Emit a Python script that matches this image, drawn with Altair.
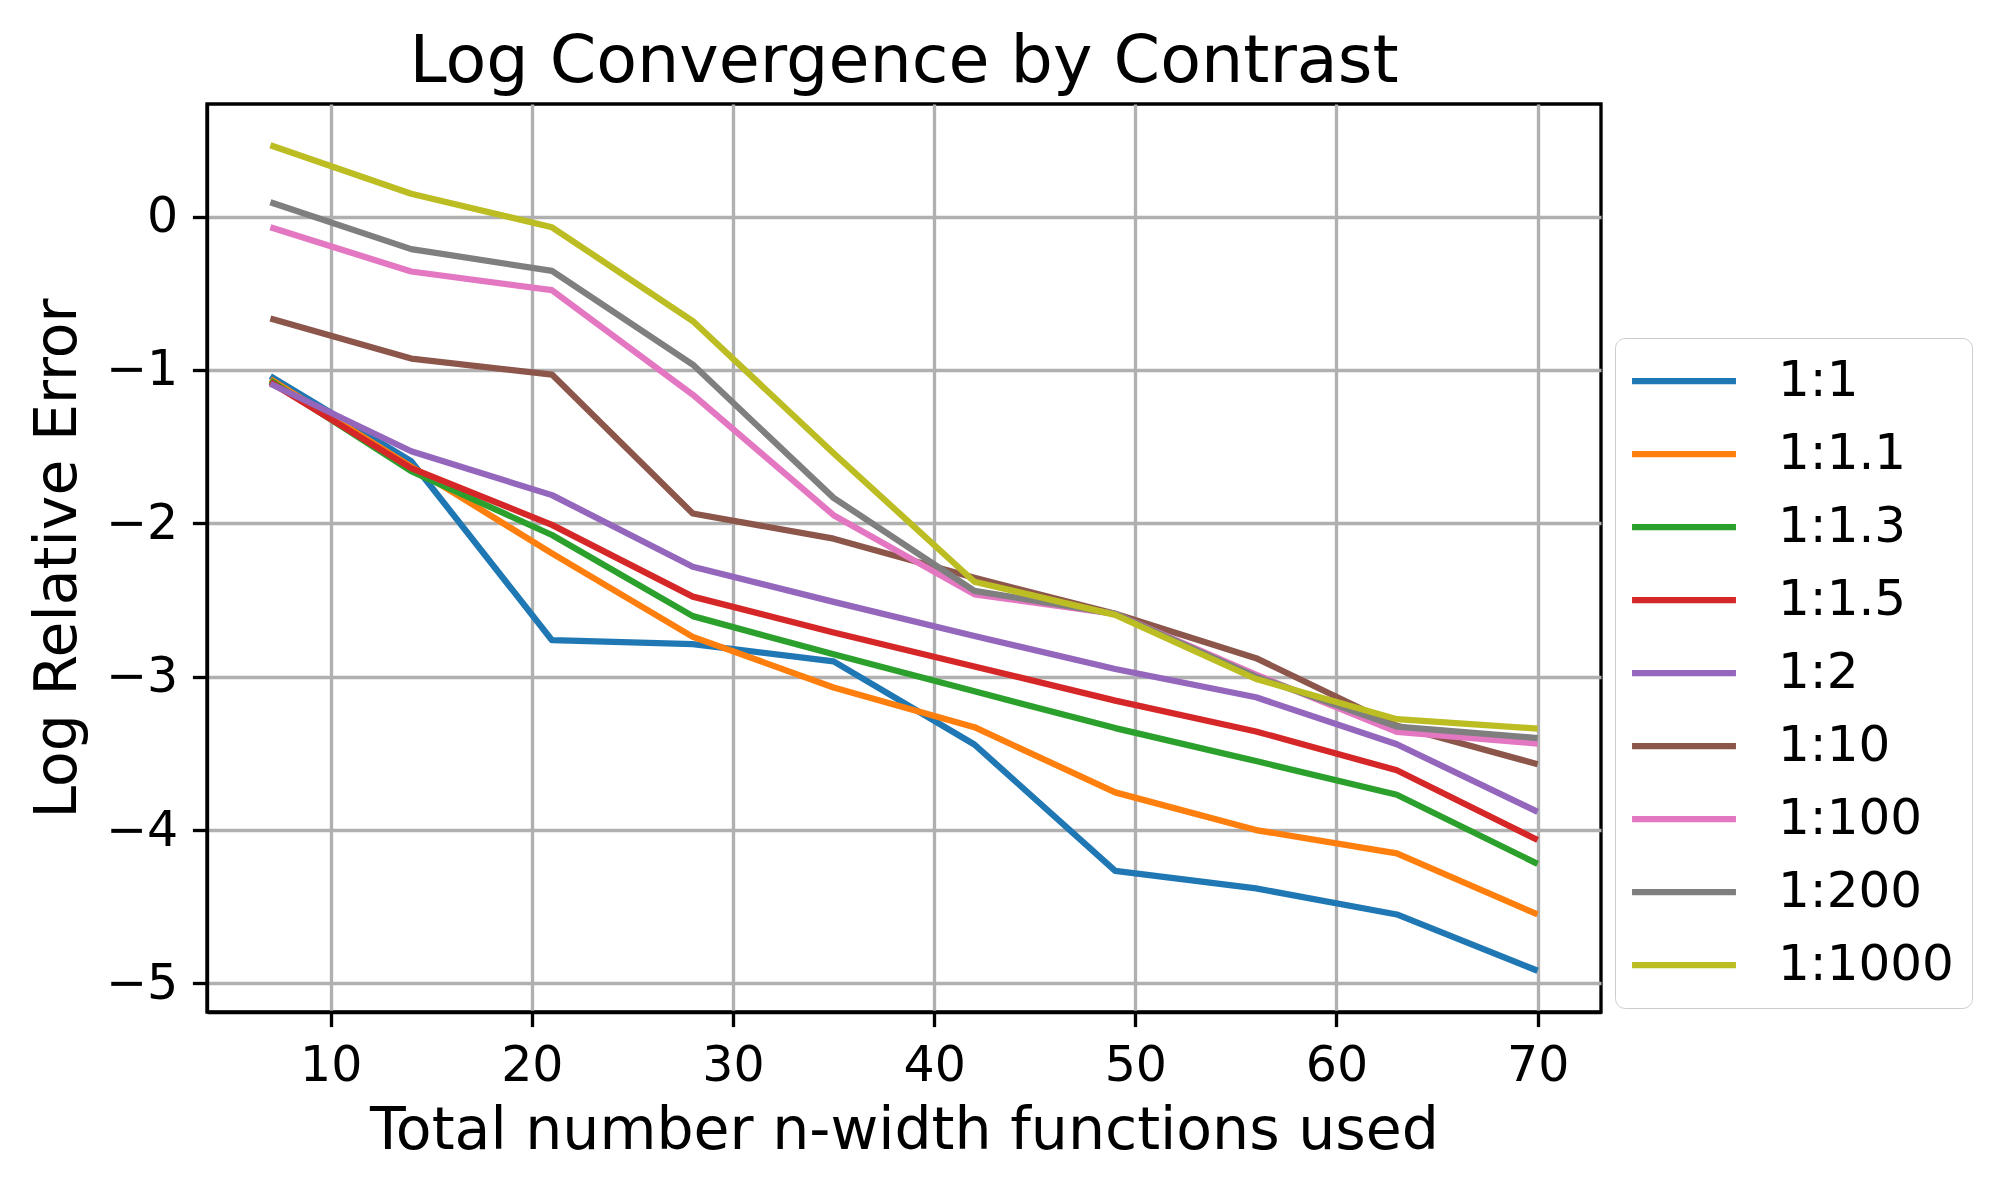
import altair as alt
import pandas as pd

x_vals = [7, 14, 21, 28, 35, 42, 49, 56, 63, 70]
labels = ["1:1", "1:1.1", "1:1.3", "1:1.5", "1:2", "1:10", "1:100", "1:200", "1:1000"]
colors = ["#1f77b4", "#ff7f0e", "#2ca02c", "#d62728", "#9467bd",
          "#8c564b", "#e377c2", "#7f7f7f", "#bcbd22"]

s_1_1 = [-1.04, -1.595, -2.762, -2.788, -2.90, -3.442, -4.266, -4.38, -4.55, -4.917]
s_1_1p1 = [-1.06, -1.63, -2.196, -2.74, -3.07, -3.329, -3.754, -4.0, -4.152, -4.55]
s_1_1p3 = [-1.07, -1.66, -2.076, -2.605, -2.854, -3.095, -3.335, -3.55, -3.77, -4.22]
s_1_1p5 = [-1.08, -1.64, -2.01, -2.478, -2.712, -2.933, -3.156, -3.357, -3.61, -4.065]
s_1_2 = [-1.09, -1.53, -1.816, -2.283, -2.512, -2.734, -2.95, -3.134, -3.44, -3.881]
s_1_10 = [-0.664, -0.926, -1.03, -1.936, -2.10, -2.355, -2.59, -2.879, -3.32, -3.571]
s_1_100 = [-0.07, -0.358, -0.48, -1.161, -1.947, -2.463, -2.59, -2.987, -3.36, -3.436]
s_1_200 = [0.094, -0.212, -0.354, -0.965, -1.834, -2.44, -2.59, -3.00, -3.325, -3.40]
s_1_1000 = [0.465, 0.149, -0.07, -0.681, -1.543, -2.381, -2.597, -3.015, -3.277, -3.338]

series = [s_1_1, s_1_1p1, s_1_1p3, s_1_1p5, s_1_2, s_1_10, s_1_100, s_1_200, s_1_1000]

rows = []
for lab, vals in zip(labels, series):
    for xv, yv in zip(x_vals, vals):
        rows.append({"n": xv, "err": yv, "contrast": lab})
df = pd.DataFrame(rows)

FONT = "DejaVu Sans"

chart = alt.Chart(df).mark_line(strokeWidth=6.25, strokeCap="butt", strokeJoin="round").encode(
    x=alt.X("n:Q",
            scale=alt.Scale(domain=[3.85, 73.15], nice=False, zero=False),
            axis=alt.Axis(values=[10, 20, 30, 40, 50, 60, 70], title="Total number n-width functions used",
                          titlePadding=12)),
    y=alt.Y("err:Q",
            scale=alt.Scale(domain=[-5.186, 0.734], nice=False, zero=False),
            axis=alt.Axis(values=[-5, -4, -3, -2, -1, 0], title="Log Relative Error",
                          titlePadding=18, format="d")),
    color=alt.Color("contrast:N",
                    scale=alt.Scale(domain=labels, range=colors),
                    sort=labels,
                    legend=alt.Legend(title=None, orient="none", legendX=1408, legendY=234,
                                      symbolType="M-5,0H5", symbolSize=432,
                                      symbolStrokeWidth=6.25, symbolOffset=26,
                                      labelOffset=69, rowPadding=23, labelLimit=0,
                                      padding=18, strokeColor="#cccccc",
                                      fillColor="#ffffff", cornerRadius=10)),
    order=alt.Order("n:Q"),
).properties(
    width=1394,
    height=908,
    title=alt.TitleParams("Log Convergence by Contrast", font=FONT, fontSize=66.7,
                          fontWeight="normal", color="black", frame="group", offset=8),
    padding={"left": 199, "top": 96, "right": 390, "bottom": 170},
    autosize=alt.AutoSizeParams(type="none"),
).configure_view(
    stroke="black", strokeWidth=3.33
).configure_axis(
    labelFont=FONT, labelFontSize=49, labelColor="black",
    titleFont=FONT, titleFontSize=58.5, titleFontWeight="normal", titleColor="black",
    domainColor="black", domainWidth=3.33,
    tickColor="black", tickWidth=3.33, tickSize=14.6, labelPadding=14.6,
    gridColor="#b0b0b0", gridWidth=3.33, gridOpacity=1,
).configure_legend(
    labelFont=FONT, labelFontSize=50, labelColor="black"
)

chart.save("out.html", embed_options={"renderer": "svg", "actions": False})
